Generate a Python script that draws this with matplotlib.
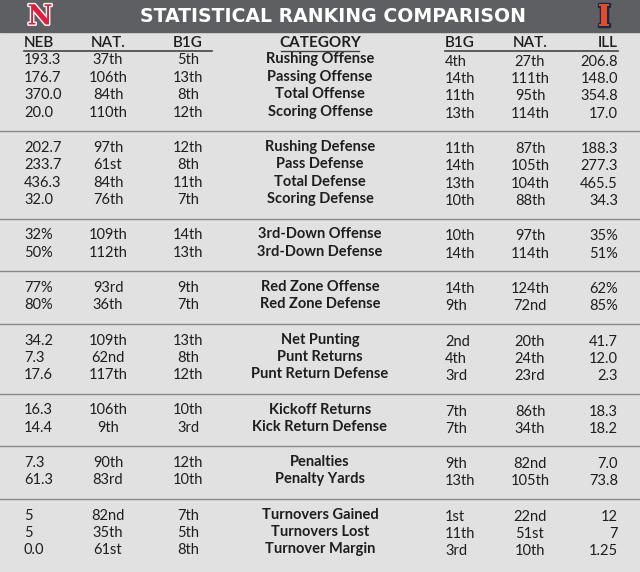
import matplotlib
matplotlib.use("Agg")
import matplotlib.pyplot as plt
import matplotlib.patheffects as pe

title = "STATISTICAL RANKING COMPARISON"
headers = ["NEB", "NAT.", "B1G", "CATEGORY", "B1G", "NAT.", "ILL"]
groups = [
    ["Rushing Offense", "Passing Offense", "Total Offense", "Scoring Offense"],
    ["Rushing Defense", "Pass Defense", "Total Defense", "Scoring Defense"],
    ["3rd-Down Offense", "3rd-Down Defense"],
    ["Red Zone Offense", "Red Zone Defense"],
    ["Net Punting", "Punt Returns", "Punt Return Defense"],
    ["Kickoff Returns", "Kick Return Defense"],
    ["Penalties", "Penalty Yards"],
    ["Turnovers Gained", "Turnovers Lost", "Turnover Margin"],
]
neb_val = ["193.3","176.7","370.0","20.0","202.7","233.7","436.3","32.0","32%","50%","77%","80%",
           "34.2","7.3","17.6","16.3","14.4","7.3","61.3","5","5","0.0"]
neb_nat = ["37th","106th","84th","110th","97th","61st","84th","76th","109th","112th","93rd","36th",
           "109th","62nd","117th","106th","9th","90th","83rd","82nd","35th","61st"]
neb_b1g = ["5th","13th","8th","12th","12th","8th","11th","7th","14th","13th","9th","7th",
           "13th","8th","12th","10th","3rd","12th","10th","7th","5th","8th"]
ill_b1g = ["4th","14th","11th","13th","11th","14th","13th","10th","10th","14th","14th","9th",
           "2nd","4th","3rd","7th","7th","9th","13th","1st","11th","3rd"]
ill_nat = ["27th","111th","95th","114th","87th","105th","104th","88th","97th","114th","124th","72nd",
           "20th","24th","23rd","86th","34th","82nd","105th","22nd","51st","10th"]
ill_val = ["206.8","148.0","354.8","17.0","188.3","277.3","465.5","34.3","35%","51%","62%","85%",
           "41.7","12.0","2.3","18.3","18.2","7.0","73.8","12","7","1.25"]

W, H = 640, 572
fig = plt.figure(figsize=(6.4, 5.72), dpi=100)
fig.patch.set_facecolor("#e1e1e1")
ax = fig.add_axes([0, 0, 1, 1])
ax.set_xlim(0, W); ax.set_ylim(H, 0); ax.axis("off")
ax.add_patch(plt.Rectangle((0, 0), W, 32, color="#5e5f62", zorder=1))
ax.text(333, 16, title, color="white", fontsize=13.6, fontweight="bold", family="DejaVu Sans",
        ha="center", va="center", zorder=2)
ax.text(40, 17, "N", color="#e41c38", fontsize=20, fontweight="bold", family="DejaVu Serif",
        ha="center", va="center", zorder=3,
        path_effects=[pe.withStroke(linewidth=2, foreground="white")])
ax.text(604, 17, "I", color="#e84a27", fontsize=21, fontweight="bold", family="DejaVu Serif",
        ha="center", va="center", zorder=3,
        path_effects=[pe.withStroke(linewidth=2.5, foreground="#13294b")])

F = "Lato"
fs = 10.5
txt = "#1e1e1e"
hx = [(24, "left"), (108, "center"), (188, "center"), (320, "center"), (445, "left"), (530, "center"), (618, "right")]
hy = 43
for (x, ha), h in zip(hx, headers):
    ax.text(x, hy, h, fontsize=11, family=F, fontweight="bold" if h == "CATEGORY" else "semibold",
            color=txt, ha=ha, va="center")
ax.plot([24, 212], [50.5, 50.5], color="#444", lw=1.2)
ax.plot([445, 618], [50.5, 50.5], color="#444", lw=1.2)
ax.plot([281, 359], [50.5, 50.5], color="#444", lw=1.0)

y = 60.5
step = 17.4
i = 0
for gi, g in enumerate(groups):
    for cat in g:
        ax.text(24, y, neb_val[i], fontsize=fs, family=F, color=txt, ha="left", va="center")
        ax.text(108, y, neb_nat[i], fontsize=fs, family=F, color=txt, ha="center", va="center")
        ax.text(188, y, neb_b1g[i], fontsize=fs, family=F, color=txt, ha="center", va="center")
        ax.text(320, y - 1, cat, fontsize=fs, family=F, fontweight="bold", color=txt, ha="center", va="center")
        ax.text(445, y + 1, ill_b1g[i], fontsize=fs, family=F, color=txt, ha="left", va="center")
        ax.text(530, y + 1, ill_nat[i], fontsize=fs, family=F, color=txt, ha="center", va="center")
        ax.text(618, y + 1, ill_val[i], fontsize=fs, family=F, color=txt, ha="right", va="center")
        y += step
        i += 1
    if gi < len(groups) - 1:
        sep = y + 1.0
        ax.plot([0, W], [sep, sep], color="#8a8a8a", lw=1.0)
        y = sep + 16.8

fig.savefig("out.png", dpi=100, facecolor=fig.get_facecolor())
